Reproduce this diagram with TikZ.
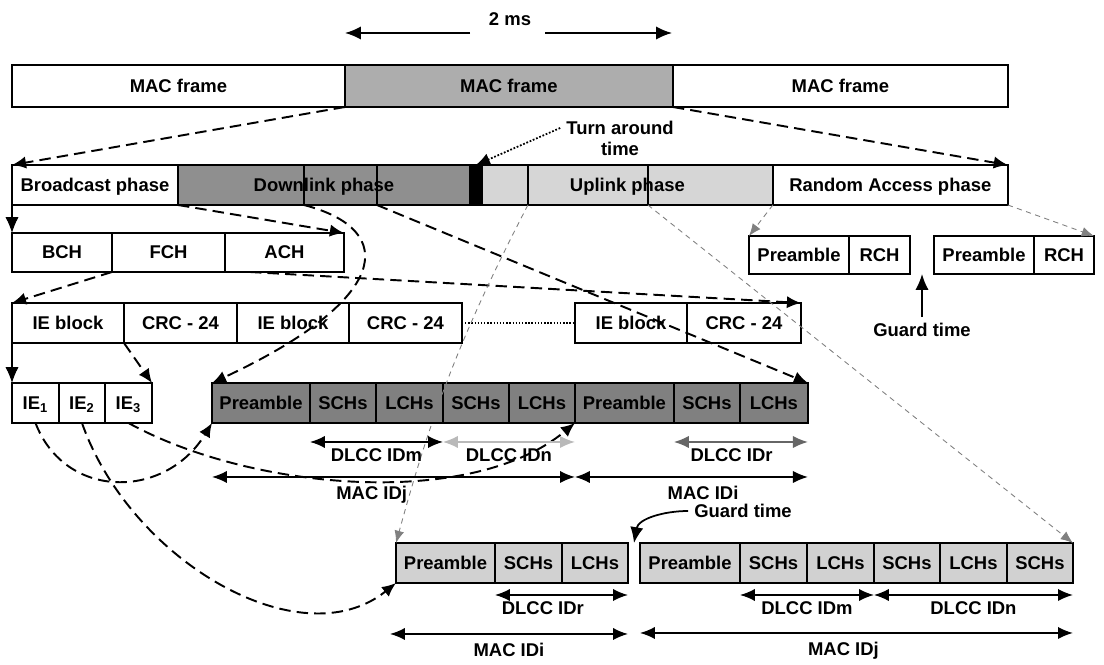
\documentclass[tikz,border=0pt]{standalone}
\usepackage{fontspec}
\setmainfont{Liberation Sans}
\usetikzlibrary{positioning, arrows.meta, calc}

\definecolor{macgray}{gray}{0.68}
\definecolor{dlgray}{gray}{0.56}
\definecolor{dlrow}{gray}{0.50}
\definecolor{ulgray}{gray}{0.84}
\definecolor{lowgray}{gray}{0.82}

\begin{document}
\begin{tikzpicture}[x=0.02cm, y=-0.02cm,
  font=\fontsize{10.5}{12}\selectfont\bfseries,
  cell/.style={draw, line width=1pt, inner sep=0pt, outer sep=0pt,
    minimum height=0.8cm, text height=0.72em, text depth=0pt},
  dasharr/.style={-{Latex[length=8pt,width=7pt]}, line width=1.1pt, dash pattern=on 6.5pt off 3.5pt},
  grayarr/.style={-{Latex[length=7pt,width=5.5pt]}, gray, line width=0.5pt, dash pattern=on 3pt off 2.5pt},
  solidarr/.style={-{Latex[length=9pt,width=7.5pt]}, line width=1pt},
  dimarr/.style={{Latex[length=8.5pt,width=7pt]}-{Latex[length=8.5pt,width=7pt]}, line width=0.9pt}]
  \useasboundingbox (0,0) rectangle (1104,665);
  % 2 ms span
  \node (ms) at (510,19) {2 ms};
  \coordinate (msA) at (470,33);
  \coordinate (msL) at (345,33);
  \coordinate (msB) at (545,33);
  \coordinate (msR) at (672,33);
  \draw[solidarr] (msA) -- (msL);
  \draw[solidarr] (msB) -- (msR);
  % MAC frames
  \node[cell, minimum width=6.66cm, minimum height=0.84cm, anchor=north west] (m1) at (12,65) {MAC frame};
  \node[cell, fill=macgray, minimum width=6.56cm, minimum height=0.84cm, right=0pt of m1] (m2) {MAC frame};
  \node[cell, minimum width=6.70cm, minimum height=0.84cm, right=0pt of m2] (m3) {MAC frame};
  % phases
  \node[cell, minimum width=3.32cm, anchor=north west] (bp) at (12,165) {Broadcast phase};
  \node[cell, fill=dlgray, minimum width=2.52cm, right=0pt of bp] (dlA) {};
  \node[cell, fill=dlgray, minimum width=1.46cm, right=0pt of dlA] (dlB) {};
  \node[cell, fill=dlgray, minimum width=1.86cm, right=0pt of dlB] (dlC) {};
  \node[cell, fill=black, minimum width=0.24cm, right=0pt of dlC] (blk) {};
  \node[cell, fill=ulgray, minimum width=0.92cm, right=0pt of blk] (ulA) {};
  \node[cell, fill=ulgray, minimum width=2.40cm, right=0pt of ulA] (ulB) {};
  \node[cell, fill=ulgray, minimum width=2.50cm, right=0pt of ulB] (ulC) {};
  \node[cell, minimum width=4.70cm, right=0pt of ulC] (ra) {Random Access phase};
  \node[text height=0.72em, text depth=0pt] (dlt) at ($(dlA.west)!0.5!(dlC.east)$) {Downlink phase};
  \node[text height=0.72em, text depth=0pt] (ult) at ($(ulA.west)!0.5!(ulC.east)$) {Uplink phase};
  % turn around time
  \node[align=center] (ta) at (620,138) {Turn around\\time};
  \draw[-{Latex[length=8pt,width=7pt]}, densely dotted, line width=1pt] ([yshift=0.2cm]ta.west) -- (blk.north);
  % broadcast channels
  \node[cell, minimum width=2.00cm, minimum height=0.78cm, anchor=north west] (bch) at (12,233) {BCH};
  \node[cell, minimum width=2.26cm, minimum height=0.78cm, right=0pt of bch] (fch) {FCH};
  \node[cell, minimum width=2.38cm, minimum height=0.78cm, right=0pt of fch] (ach) {ACH};
  % random access slots
  \node[cell, minimum width=2.00cm, minimum height=0.76cm, anchor=north west] (rp1) at (749,236) {Preamble};
  \node[cell, minimum width=1.22cm, minimum height=0.76cm, right=0pt of rp1] (rc1) {RCH};
  \node[cell, minimum width=2.00cm, minimum height=0.76cm, anchor=north west] (rp2) at (934,236) {Preamble};
  \node[cell, minimum width=1.20cm, minimum height=0.76cm, right=0pt of rp2] (rc2) {RCH};
  \node (gt1) at (922,330) {Guard time};
  \draw[solidarr] (gt1.north) -- (gt1.north |- rc1.south);
  % IE blocks
  \node[cell, minimum width=2.24cm, anchor=north west] (ib1) at (12,303) {IE block};
  \node[cell, minimum width=2.26cm, right=0pt of ib1] (cr1) {CRC - 24};
  \node[cell, minimum width=2.24cm, right=0pt of cr1] (ib2) {IE block};
  \node[cell, minimum width=2.26cm, right=0pt of ib2] (cr2) {CRC - 24};
  \node[cell, minimum width=2.24cm, anchor=north west] (ib3) at (575,303) {IE block};
  \node[cell, minimum width=2.28cm, right=0pt of ib3] (cr3) {CRC - 24};
  \draw[densely dotted, line width=0.8pt] (cr2.east) -- (ib3.west);
  % IEs
  \node[cell, minimum width=0.94cm, anchor=north west] (ie1) at (12,383) {IE\textsubscript{1}};
  \node[cell, minimum width=0.92cm, right=0pt of ie1] (ie2) {IE\textsubscript{2}};
  \node[cell, minimum width=0.94cm, right=0pt of ie2] (ie3) {IE\textsubscript{3}};
  % downlink bursts
  \node[cell, fill=dlrow, minimum width=1.96cm, anchor=north west] (d1) at (212,383) {Preamble};
  \node[cell, fill=dlrow, minimum width=1.32cm, right=0pt of d1] (d2) {SCHs};
  \node[cell, fill=dlrow, minimum width=1.34cm, right=0pt of d2] (d3) {LCHs};
  \node[cell, fill=dlrow, minimum width=1.32cm, right=0pt of d3] (d4) {SCHs};
  \node[cell, fill=dlrow, minimum width=1.32cm, right=0pt of d4] (d5) {LCHs};
  \node[cell, fill=dlrow, minimum width=1.98cm, right=0pt of d5] (d6) {Preamble};
  \node[cell, fill=dlrow, minimum width=1.32cm, right=0pt of d6] (d7) {SCHs};
  \node[cell, fill=dlrow, minimum width=1.36cm, right=0pt of d7] (d8) {LCHs};
  % uplink bursts
  \node[cell, fill=lowgray, minimum width=1.98cm, anchor=north west] (l1) at (396,543) {Preamble};
  \node[cell, fill=lowgray, minimum width=1.34cm, right=0pt of l1] (l2) {SCHs};
  \node[cell, fill=lowgray, minimum width=1.32cm, right=0pt of l2] (l3) {LCHs};
  \node[cell, fill=lowgray, minimum width=2.00cm, anchor=north west] (r1) at (640,543) {Preamble};
  \node[cell, fill=lowgray, minimum width=1.34cm, right=0pt of r1] (r2) {SCHs};
  \node[cell, fill=lowgray, minimum width=1.34cm, right=0pt of r2] (r3) {LCHs};
  \node[cell, fill=lowgray, minimum width=1.32cm, right=0pt of r3] (r4) {SCHs};
  \node[cell, fill=lowgray, minimum width=1.34cm, right=0pt of r4] (r5) {LCHs};
  \node[cell, fill=lowgray, minimum width=1.32cm, right=0pt of r5] (r6) {SCHs};
  \node (gt2) at (743,511) {Guard time};
  \coordinate (gap) at ($(l3.north east)!0.5!(r1.north west)$);
  \draw[solidarr] (gt2.west) to[out=180, in=80] (gap);
  % frame to phases
  \draw[dasharr] (m2.south west) -- (bp.north west);
  \draw[dasharr] (m2.south east) -- (ra.north east);
  % broadcast phase breakdown
  \draw[solidarr, line width=0.6pt] (bp.south west) -- (bch.north west);
  \draw[dasharr] (bp.south east) -- (ach.north east);
  \draw[dasharr] (fch.south west) -- (ib1.north west);
  \draw[dasharr] ([xshift=0.5cm]ach.south west) -- (cr3.north east);
  \draw[solidarr, line width=0.6pt] (ib1.south west) -- (ie1.north west);
  \draw[dasharr] (cr1.south west) -- (ie3.north east);
  % downlink phase breakdown
  \draw[dasharr] (dlB.south west) .. controls (400,230) and (390,300) .. (d1.north west);
  \draw[dasharr] (dlC.south west) -- (d8.north east);
  % IEs point at bursts
  \draw[dasharr] (ie1.south) .. controls (65,500) and (165,500) .. (d1.south west);
  \draw[dasharr] (ie2.south) .. controls (130,560) and (300,660) .. (l1.south west);
  \draw[dasharr] (ie3.south) .. controls (250,490) and (470,510) .. (d6.south west);
  % uplink and random access breakdown
  \draw[grayarr] (ulB.south west) to[bend right=6] (l1.north west);
  \draw[grayarr] (ulC.south west) -- (r6.north east);
  \draw[grayarr] (ra.south west) -- (rp1.north west);
  \draw[grayarr] (ra.south east) -- (rc2.north east);
  % connection spans, downlink
  \draw[dimarr] ([yshift=-0.38cm]d2.south west) -- node[below] (dm1) {DLCC IDm} ([yshift=-0.38cm]d3.south east);
  \draw[dimarr, gray!55] ([yshift=-0.38cm]d3.south east) -- node[below, black] (dn1) {DLCC IDn} ([yshift=-0.38cm]d5.south east);
  \draw[dimarr, gray!80!black] ([yshift=-0.38cm]d7.south west) -- node[below, pos=0.43, black] (dr1) {DLCC IDr} ([yshift=-0.38cm]d8.south east);
  \draw[dimarr] ([yshift=-1.08cm]d1.south west) -- node[below=1.5pt, pos=0.44] (mj1) {MAC IDj} ([yshift=-1.08cm]d5.south east);
  \draw[dimarr] ([yshift=-1.08cm]d6.south west) -- node[below=1.5pt, pos=0.55] (mi1) {MAC IDi} ([yshift=-1.08cm]d8.south east);
  % connection spans, uplink
  \draw[dimarr] ([yshift=-0.24cm]l2.south west) -- node[below, pos=0.36] (dr2) {DLCC IDr} ([yshift=-0.24cm]l3.south east);
  \draw[dimarr] ([yshift=-1.02cm, xshift=-0.12cm]l1.south west) -- node[below=1.5pt] (mi2) {MAC IDi} ([yshift=-1.02cm]l3.south east);
  \draw[dimarr] ([yshift=-0.24cm]r2.south west) -- node[below] (dm2) {DLCC IDm} ([yshift=-0.24cm]r3.south east);
  \draw[dimarr] ([yshift=-0.24cm]r4.south west) -- node[below] (dn2) {DLCC IDn} ([yshift=-0.24cm]r6.south east);
  \draw[dimarr] ([yshift=-1.0cm]r1.south west) -- node[below=1.5pt, pos=0.47] (mj2) {MAC IDj} ([yshift=-1.0cm]r6.south east);
\end{tikzpicture}
\end{document}
